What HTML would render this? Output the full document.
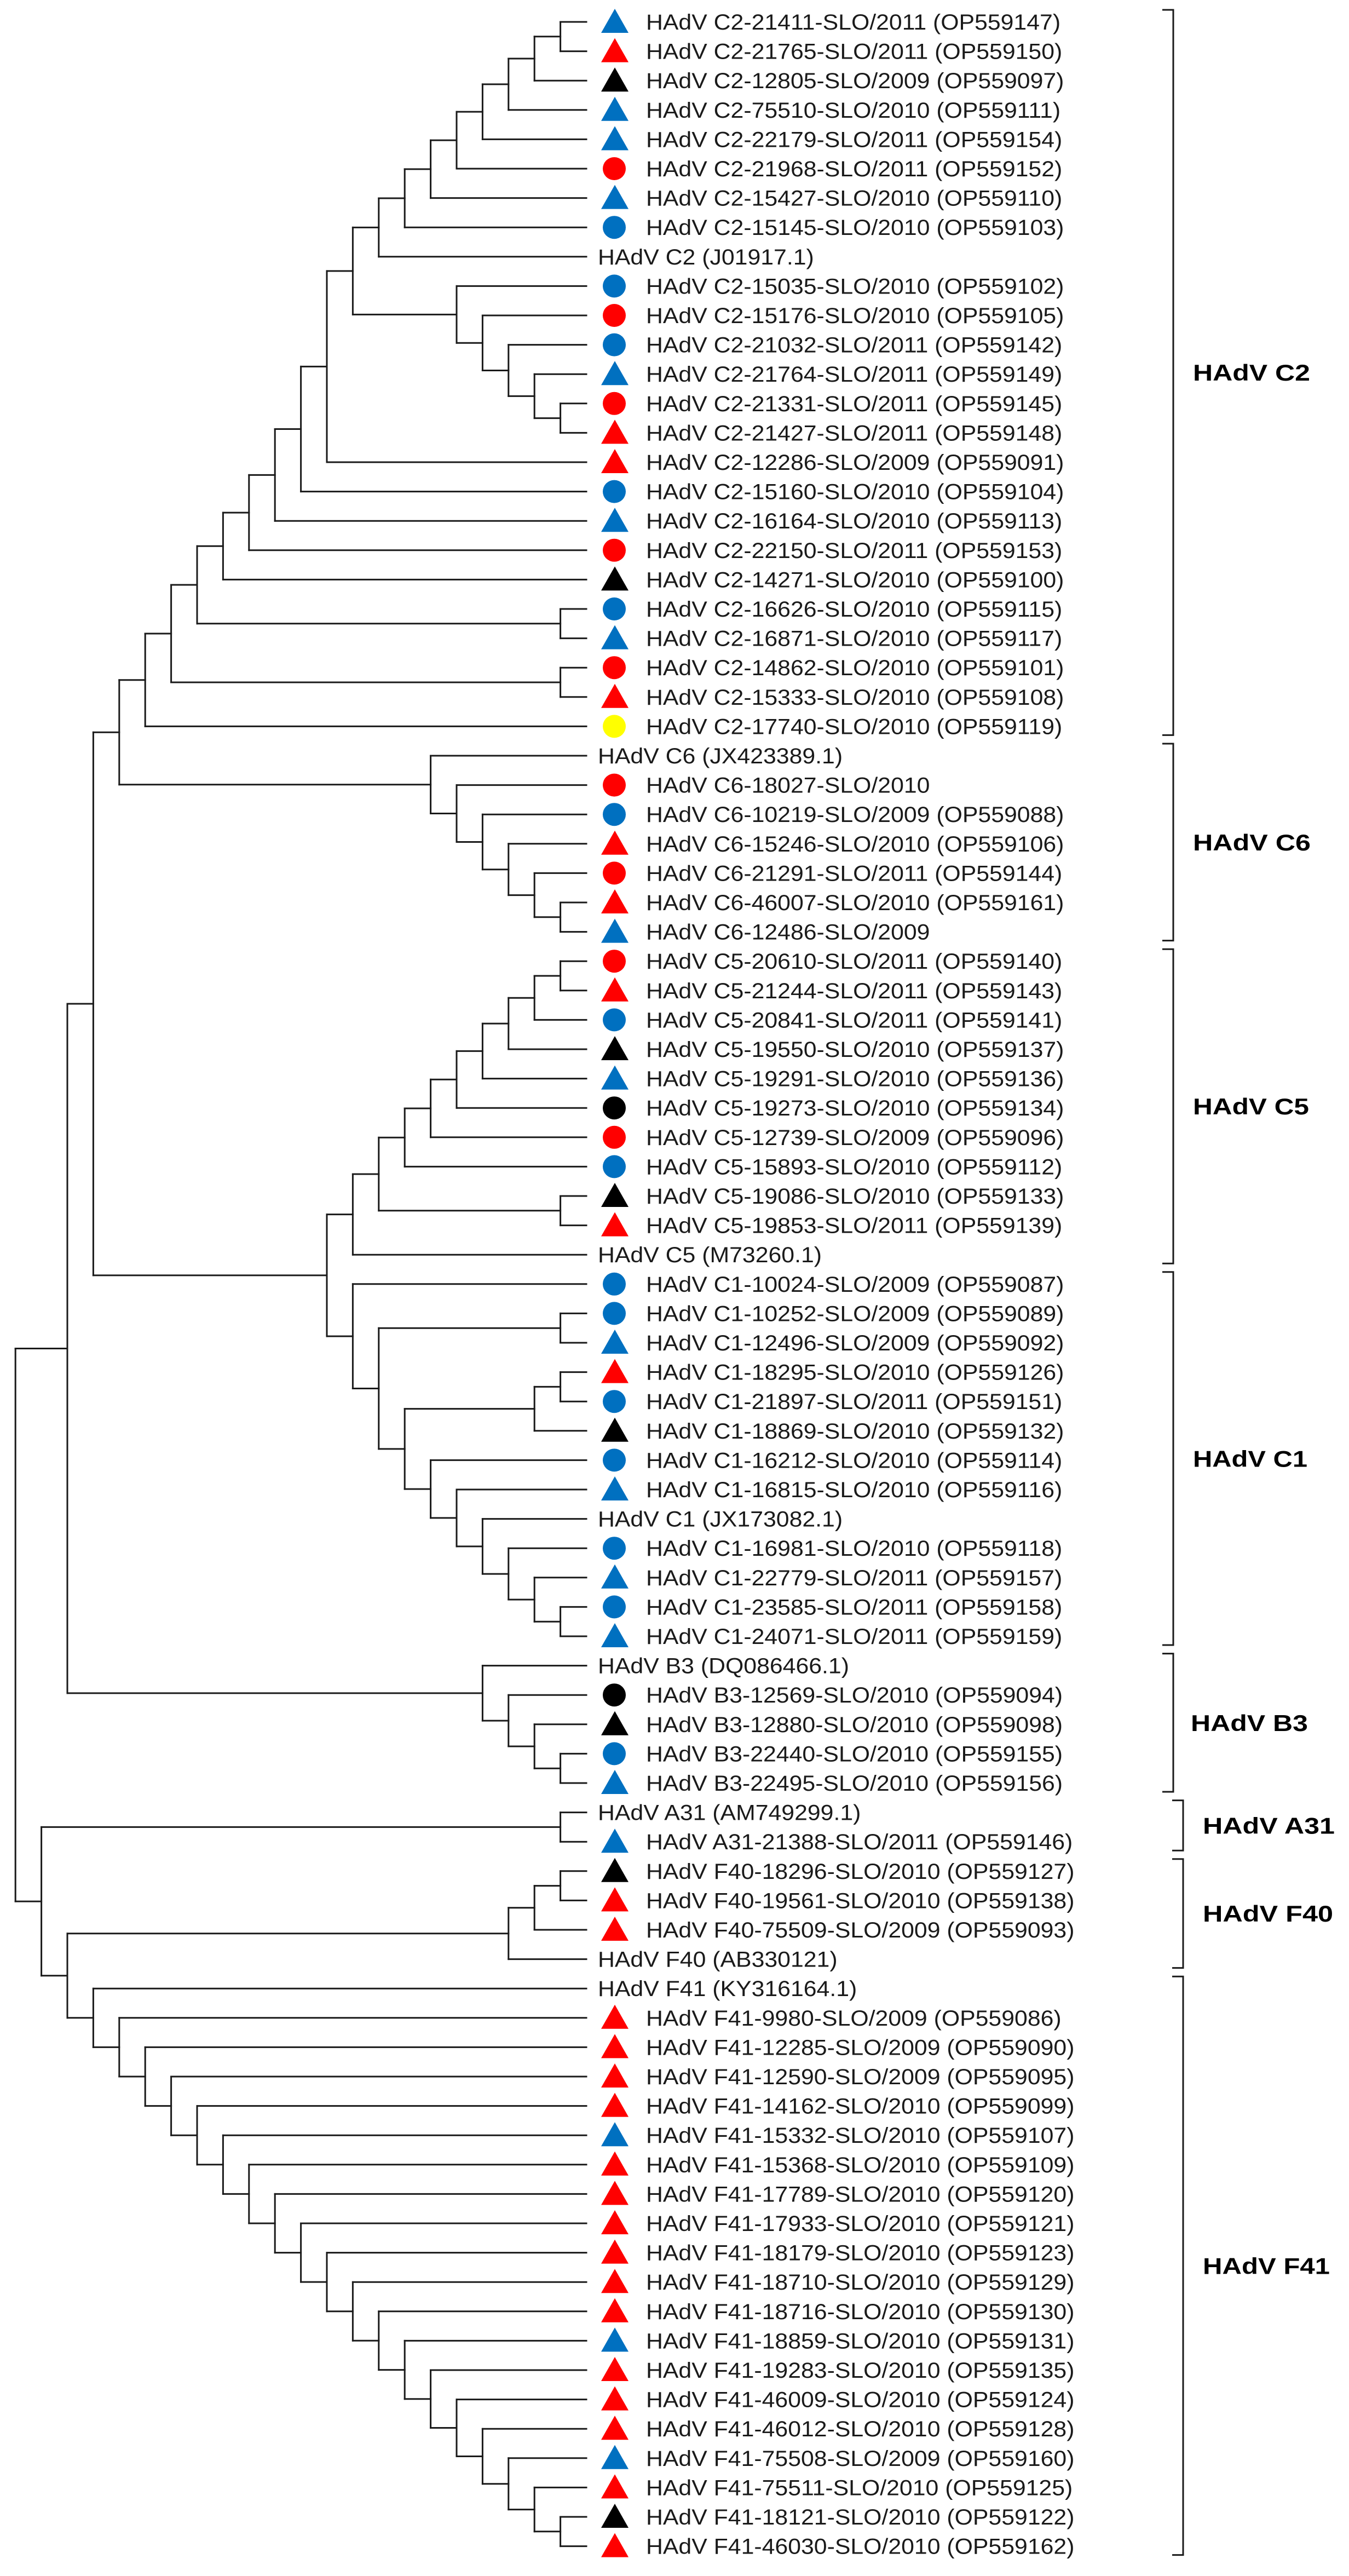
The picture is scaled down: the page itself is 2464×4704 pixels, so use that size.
<!DOCTYPE html>
<html><head><meta charset="utf-8"><style>
html,body{margin:0;padding:0;background:#fff;}
svg{display:block;}
</style></head><body>
<svg id="chart" width="2464" height="4704" viewBox="0 0 2464 4704" xmlns="http://www.w3.org/2000/svg">
<rect width="2464" height="4704" fill="#fff"/>
<g id="branches" stroke="#1a1a1a" stroke-width="3" fill="none" stroke-linecap="square"></g>
<g id="markers"></g>
<g id="labels" font-family="'Liberation Sans', Arial, sans-serif" font-size="40" fill="#1a1a1a"></g>
<g id="clades"></g>
</svg>
<script>
const leafLabels = [
"HAdV C2-21411-SLO/2011 (OP559147)","HAdV C2-21765-SLO/2011 (OP559150)","HAdV C2-12805-SLO/2009 (OP559097)","HAdV C2-75510-SLO/2010 (OP559111)","HAdV C2-22179-SLO/2011 (OP559154)","HAdV C2-21968-SLO/2011 (OP559152)","HAdV C2-15427-SLO/2010 (OP559110)","HAdV C2-15145-SLO/2010 (OP559103)","HAdV C2 (J01917.1)",
"HAdV C2-15035-SLO/2010 (OP559102)","HAdV C2-15176-SLO/2010 (OP559105)","HAdV C2-21032-SLO/2011 (OP559142)","HAdV C2-21764-SLO/2011 (OP559149)","HAdV C2-21331-SLO/2011 (OP559145)","HAdV C2-21427-SLO/2011 (OP559148)","HAdV C2-12286-SLO/2009 (OP559091)","HAdV C2-15160-SLO/2010 (OP559104)","HAdV C2-16164-SLO/2010 (OP559113)","HAdV C2-22150-SLO/2011 (OP559153)","HAdV C2-14271-SLO/2010 (OP559100)","HAdV C2-16626-SLO/2010 (OP559115)","HAdV C2-16871-SLO/2010 (OP559117)","HAdV C2-14862-SLO/2010 (OP559101)","HAdV C2-15333-SLO/2010 (OP559108)","HAdV C2-17740-SLO/2010 (OP559119)",
"HAdV C6 (JX423389.1)","HAdV C6-18027-SLO/2010","HAdV C6-10219-SLO/2009 (OP559088)","HAdV C6-15246-SLO/2010 (OP559106)","HAdV C6-21291-SLO/2011 (OP559144)","HAdV C6-46007-SLO/2010 (OP559161)","HAdV C6-12486-SLO/2009",
"HAdV C5-20610-SLO/2011 (OP559140)","HAdV C5-21244-SLO/2011 (OP559143)","HAdV C5-20841-SLO/2011 (OP559141)","HAdV C5-19550-SLO/2010 (OP559137)","HAdV C5-19291-SLO/2010 (OP559136)","HAdV C5-19273-SLO/2010 (OP559134)","HAdV C5-12739-SLO/2009 (OP559096)","HAdV C5-15893-SLO/2010 (OP559112)","HAdV C5-19086-SLO/2010 (OP559133)","HAdV C5-19853-SLO/2011 (OP559139)","HAdV C5 (M73260.1)",
"HAdV C1-10024-SLO/2009 (OP559087)","HAdV C1-10252-SLO/2009 (OP559089)","HAdV C1-12496-SLO/2009 (OP559092)","HAdV C1-18295-SLO/2010 (OP559126)","HAdV C1-21897-SLO/2011 (OP559151)","HAdV C1-18869-SLO/2010 (OP559132)","HAdV C1-16212-SLO/2010 (OP559114)","HAdV C1-16815-SLO/2010 (OP559116)","HAdV C1 (JX173082.1)","HAdV C1-16981-SLO/2010 (OP559118)","HAdV C1-22779-SLO/2011 (OP559157)","HAdV C1-23585-SLO/2011 (OP559158)","HAdV C1-24071-SLO/2011 (OP559159)",
"HAdV B3 (DQ086466.1)","HAdV B3-12569-SLO/2010 (OP559094)","HAdV B3-12880-SLO/2010 (OP559098)","HAdV B3-22440-SLO/2010 (OP559155)","HAdV B3-22495-SLO/2010 (OP559156)",
"HAdV A31 (AM749299.1)","HAdV A31-21388-SLO/2011 (OP559146)",
"HAdV F40-18296-SLO/2010 (OP559127)","HAdV F40-19561-SLO/2010 (OP559138)","HAdV F40-75509-SLO/2009 (OP559093)","HAdV F40 (AB330121)",
"HAdV F41 (KY316164.1)","HAdV F41-9980-SLO/2009 (OP559086)","HAdV F41-12285-SLO/2009 (OP559090)","HAdV F41-12590-SLO/2009 (OP559095)","HAdV F41-14162-SLO/2010 (OP559099)","HAdV F41-15332-SLO/2010 (OP559107)","HAdV F41-15368-SLO/2010 (OP559109)","HAdV F41-17789-SLO/2010 (OP559120)","HAdV F41-17933-SLO/2010 (OP559121)","HAdV F41-18179-SLO/2010 (OP559123)","HAdV F41-18710-SLO/2010 (OP559129)","HAdV F41-18716-SLO/2010 (OP559130)","HAdV F41-18859-SLO/2010 (OP559131)","HAdV F41-19283-SLO/2010 (OP559135)","HAdV F41-46009-SLO/2010 (OP559124)","HAdV F41-46012-SLO/2010 (OP559128)","HAdV F41-75508-SLO/2009 (OP559160)","HAdV F41-75511-SLO/2010 (OP559125)","HAdV F41-18121-SLO/2010 (OP559122)","HAdV F41-46030-SLO/2010 (OP559162)"
];
const leafShapes = ["t","t","t","t","t","c","t","c","",
"c","c","c","t","c","t","t","c","t","c","t","c","t","c","t","c",
"","c","c","t","c","t","t",
"c","t","c","t","t","c","c","c","t","t","",
"c","c","t","t","c","t","c","t","","c","t","c","t",
"","c","t","c","t",
"","t",
"t","t","t","",
"","t","t","t","t","t","t","t","t","t","t","t","t","t","t","t","t","t","t","t"];
const leafColors = ["b","r","k","b","b","r","b","b","",
"b","r","b","b","r","r","r","b","b","r","k","b","b","r","r","y",
"","r","b","r","r","r","b",
"r","r","b","k","b","k","r","b","k","r","",
"b","b","b","r","b","k","b","b","","b","b","b","b",
"","k","k","b","b",
"","b",
"k","r","r","",
"","r","r","r","r","b","r","r","r","r","r","r","b","r","r","r","b","r","k","r"];
const cladeNames = ["HAdV C2","HAdV C6","HAdV C5","HAdV C1","HAdV B3","HAdV A31","HAdV F40","HAdV F41"];
const cladeFirst = [0,25,32,43,56,61,63,67];
const cladeLast = [24,31,42,55,60,62,66,86];

// topology (leaf indices)
const topChain = [[[[[[[[0,1],2],3],4],5],6],7],8];
const c2b = [9,[10,[11,[12,[13,14]]]]];
const c2 = [[[[[[[[[topChain,c2b],15],16],17],18],19],[20,21]],[22,23]],24];
const c6 = [25,[26,[27,[28,[29,[30,31]]]]]];
const c5 = [[[[[[[[[32,33],34],35],36],37],38],39],[40,41]],42];
const c1 = [43,[[44,45],[[[46,47],48],[49,[50,[51,[52,[53,[54,55]]]]]]]]];
const b3 = [56,[57,[58,[59,60]]]];
const f40 = [[[63,64],65],66];
let f41 = [85,86];
for (let i = 84; i >= 67; i--) f41 = [i, f41];
const tree = [[[[c2,c6],[c5,c1]],b3],[[61,62],[f40,f41]]];

const colorMap = {b:"#0070C0", r:"#FF0000", k:"#000000", y:"#FFFF00"};
const NS = "http://www.w3.org/2000/svg";
const LEAF_X = 1071, STEP = 47.4, ROW0 = 40, ROW = 53.6;
const yScale = i => ROW0 + ROW * i;
const branches = document.getElementById('branches');
const markers = document.getElementById('markers');
const labels = document.getElementById('labels');
const clades = document.getElementById('clades');

function height(n){ return Array.isArray(n) ? 1 + Math.max(...n.map(height)) : 0; }
function line(x1,y1,x2,y2,name){
  const l = document.createElementNS(NS,'line');
  l.setAttribute('x1',x1); l.setAttribute('y1',y1); l.setAttribute('x2',x2); l.setAttribute('y2',y2);
  
  
  branches.appendChild(l);
}
function layout(n){
  if (!Array.isArray(n)) return {x: LEAF_X, y: yScale(n)};
  const x = LEAF_X - STEP * height(n);
  const kids = n.map(layout);
  kids.forEach(k => line(x, k.y, k.x, k.y, 'branch'));
  const y0 = kids[0].y, y1 = kids[kids.length-1].y;
  line(x, y0, x, y1, 'node-connector');
  return {x, y: (y0 + y1) / 2};
}
const root = layout(tree);

leafLabels.forEach((txt, i) => {
  const y = yScale(i);
  const shape = leafShapes[i];
  const col = colorMap[leafColors[i]];
  if (shape === 't') {
    const p = document.createElementNS(NS,'polygon');
    p.setAttribute('points', `1123,${y-24} 1148,${y+20} 1098,${y+20}`);
    p.setAttribute('fill', col);
    
    
    markers.appendChild(p);
  } else if (shape === 'c') {
    const c = document.createElementNS(NS,'circle');
    c.setAttribute('cx', 1122); c.setAttribute('cy', y); c.setAttribute('r', 21);
    c.setAttribute('fill', col);
    
    
    markers.appendChild(c);
  }
  const tx = shape ? 1180 : 1092;
  const t = document.createElementNS(NS,'text');
  t.setAttribute('transform', `translate(${tx},${y+14}) scale(1.07,1)`);
  t.textContent = txt;
  
  
  labels.appendChild(t);
});

const bracketDefs = [
  {bx:2143, lx:2179, w:214},{bx:2143, lx:2179, w:215},{bx:2143, lx:2179, w:212},{bx:2143, lx:2179, w:209},
  {bx:2143, lx:2175, w:214},{bx:2161, lx:2197, w:241},{bx:2161, lx:2197, w:238},{bx:2161, lx:2197, w:232}
];
cladeNames.forEach((nm, i) => {
  const d = bracketDefs[i];
  const top = yScale(cladeFirst[i]) - 22, bot = yScale(cladeLast[i]) + 16;
  const p = document.createElementNS(NS,'path');
  p.setAttribute('d', `M${d.bx-20},${top} H${d.bx} V${bot} H${d.bx-20}`);
  p.setAttribute('stroke', '#1a1a1a'); p.setAttribute('stroke-width', '3'); p.setAttribute('fill', 'none');
  
  
  clades.appendChild(p);
  const t = document.createElementNS(NS,'text');
  t.setAttribute('x', d.lx); t.setAttribute('y', (top + bot) / 2 + 15);
  t.setAttribute('font-family', "'Liberation Sans', Arial, sans-serif");
  t.setAttribute('font-size', '42'); t.setAttribute('font-weight', 'bold');
  t.setAttribute('textLength', d.w); t.setAttribute('lengthAdjust', 'spacingAndGlyphs');
  t.setAttribute('fill', '#000');
  t.textContent = nm;
  
  
  clades.appendChild(t);
});
</script>
</body></html>
